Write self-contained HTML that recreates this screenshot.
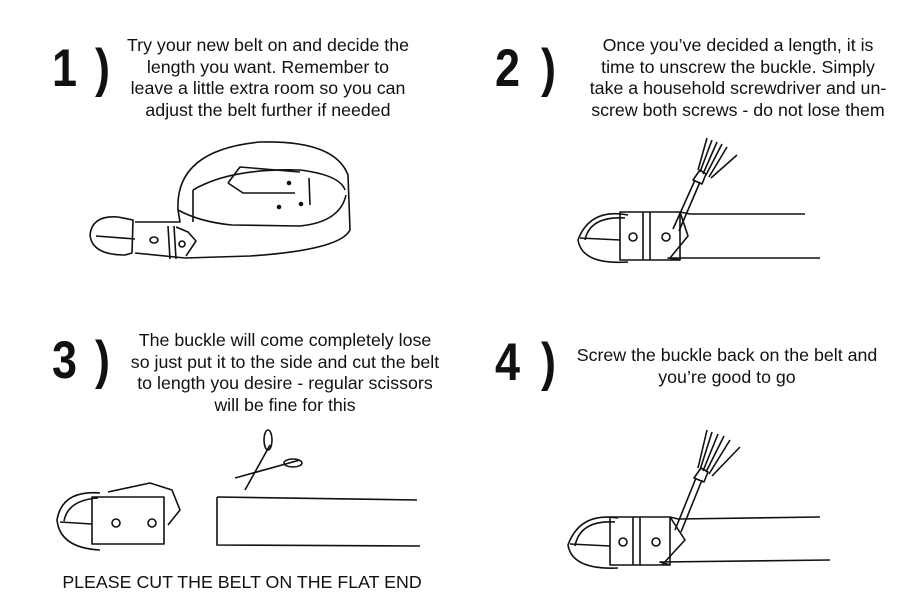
<!DOCTYPE html>
<html><head><style>
body{margin:0;background:#fff;width:900px;height:600px;overflow:hidden;position:relative;font-family:"Liberation Sans",sans-serif;}
.num{position:absolute;font-family:"Liberation Sans",sans-serif;font-weight:900;font-size:50px;line-height:50px;color:#111;transform-origin:0 0;transform:scale(0.9,1.05);white-space:nowrap}
.t{position:absolute;font-size:17.8px;line-height:21.5px;text-align:center;color:#111;white-space:nowrap}
</style></head><body>
<div class="num" style="left:52px;top:42px">1</div><div class="num" style="left:95px;top:42px">)</div>
<div class="num" style="left:495px;top:42px">2</div><div class="num" style="left:541px;top:42px">)</div>
<div class="num" style="left:52px;top:334px">3</div><div class="num" style="left:95px;top:334px">)</div>
<div class="num" style="left:495px;top:336px">4</div><div class="num" style="left:541px;top:336px">)</div>
<div class="t" style="left:118px;top:35px;width:300px">Try your new belt on and decide the<br>length you want. Remember to<br>leave a little extra room so you can<br>adjust the belt further if needed</div>
<div class="t" style="left:578px;top:35px;width:320px">Once you’ve decided a length, it is<br>time to unscrew the buckle. Simply<br>take a household screwdriver and un-<br>screw both screws - do not lose them</div>
<div class="t" style="left:125px;top:330px;width:320px">The buckle will come completely lose<br>so just put it to the side and cut the belt<br>to length you desire - regular scissors<br>will be fine for this</div>
<div class="t" style="left:568px;top:345px;width:318px">Screw the buckle back on the belt and<br>you’re good to go</div>
<div class="t" style="left:42px;top:572px;width:400px">PLEASE CUT THE BELT ON THE FLAT END</div>
<svg width="900" height="600" style="position:absolute;left:0;top:0" fill="none" stroke="#111" stroke-width="1.6" stroke-linejoin="round">
<path d="M178 210 Q175 150 260 142 Q335 140 348 175 L350 230 Q340 250 250 256 L185 258"/>
<path d="M178 210 Q200 222 232 225 L300 226 Q340 222 346 195"/>
<path d="M193 190 Q230 168 300 170 Q340 175 345 190"/>
<path d="M193 190 L193 222"/>
<path d="M309 178 L310 205"/>
<path d="M228 183 L240 167 L300 172 M228 183 L243 193 L295 193"/>
<circle cx="289" cy="183" r="1.5" fill="#111"/><circle cx="279" cy="207" r="1.5" fill="#111"/><circle cx="301" cy="204" r="1.5" fill="#111"/>
<path d="M135 222 L180 222 L178 210"/>
<path d="M135 253 L185 258"/>
<path d="M133 220 L118 217 Q92 215 90 235 Q92 255 125 255 L132 253 Z"/>
<path d="M96 236 L135 239"/>
<ellipse cx="154" cy="240" rx="4" ry="3"/>
<path d="M168 226 L170 259 M174 226 L176 259"/>
<path d="M176 227 L188 232 L196 241 L186 256"/>
<circle cx="182" cy="244" r="3"/>
<path d="M628 215 Q590 208 578 240 Q582 265 628 262"/>
<path d="M585 240 Q590 216 625 218"/>
<path d="M580 238 L620 240"/>
<rect x="620" y="212" width="60" height="48" />
<path d="M643 212 L643 260 M650 212 L650 260"/>
<path d="M680 212 L690 214 L805 214 M680 260 L668 258 L820 258 M680 212 L688 236 L670 258"/>
<circle cx="633" cy="237" r="4"/><circle cx="666" cy="237" r="4"/>
<path d="M673 229 L695 180 M679 231 L700 182"/>
<path d="M693 180 L700 170 L706 174 L702 184 Z"/>
<path d="M700 172 L712 140 M703 174 L717 142 M706 175 L722 144 M709 177 L727 147 M711 178 L737 155 M698 170 L707 138"/>
<path d="M100 493 Q62 490 57 520 Q60 548 100 550"/>
<path d="M64 521 Q68 500 98 498"/>
<path d="M60 522 L92 524"/>
<rect x="92" y="497" width="72" height="47"/>
<path d="M108 492 L150 483 L172 490 L180 510 L168 525"/>
<circle cx="116" cy="523" r="4"/><circle cx="152" cy="523" r="4"/>
<path d="M217 497 L417 500 M217 497 L217 545 L420 546"/>
<path d="M235 478 L300 460 M245 490 L270 445"/>
<ellipse cx="268" cy="440" rx="4" ry="10"/>
<ellipse cx="293" cy="463" rx="9" ry="4"/>
<path d="M618 518 Q580 512 568 545 Q572 570 618 568"/>
<path d="M575 546 Q580 520 615 522"/>
<path d="M570 544 L610 546"/>
<rect x="610" y="517" width="60" height="48"/>
<path d="M633 517 L633 565 M640 517 L640 565"/>
<path d="M670 517 L678 519 L820 517 M670 565 L660 562 L830 560 M670 517 L685 540 L662 565"/>
<circle cx="623" cy="542" r="4"/><circle cx="656" cy="542" r="4"/>
<path d="M675 530 L696 478 M681 532 L702 480"/>
<path d="M694 478 L701 468 L708 472 L704 482 Z"/>
<path d="M700 470 L712 432 M703 471 L718 434 M706 472 L724 436 M709 474 L730 440 M712 476 L740 447 M698 468 L707 430"/>
</svg>
</body></html>
